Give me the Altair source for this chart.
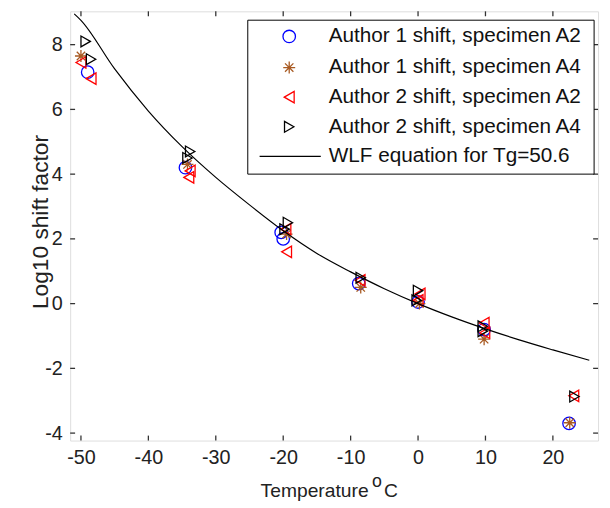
import altair as alt
import pandas as pd

# ---------------- data ----------------
series_names = [
    "Author 1 shift, specimen A2",
    "Author 1 shift, specimen A4",
    "Author 2 shift, specimen A2",
    "Author 2 shift, specimen A4",
]
curve_name = "WLF equation for Tg=50.6"

a1_a2_t = [-49.0, -34.5, -20.0, -20.3, -8.8, 0.0, 9.8, 22.4]
a1_a2_y = [7.15, 4.2, 2.0, 2.2, 0.62, 0.05, -0.8, -3.7]

a1_a4_t = [-50.0, -34.2, -19.5, -8.5, 0.2, 9.8, 22.5]
a1_a4_y = [7.65, 4.3, 2.15, 0.5, 0.0, -1.1, -3.68]

a2_a2_t = [-50.0, -48.5, -33.8, -34.0, -19.6, -19.5, -8.6, 0.0, 0.3, 9.8, 9.9, 23.1]
a2_a2_y = [7.45, 6.95, 4.1, 3.9, 2.3, 1.6, 0.72, 0.1, 0.3, -0.6, -0.9, -2.85]

a2_a4_t = [-49.3, -48.5, -33.8, -34.2, -19.3, -19.8, -8.5, 0.0, -0.2, 9.6, 9.6, 23.2]
a2_a4_y = [8.1, 7.55, 4.7, 4.5, 2.5, 2.3, 0.8, 0.4, 0.1, -0.7, -0.85, -2.87]

curve_t = [-51.0, -50, -45, -40, -35, -30, -25, -20, -15, -10, -5, 0, 5, 10, 15, 20, 25.4]
curve_y = [8.95, 8.75, 7.25, 5.95, 4.85, 3.9, 3.05, 2.25, 1.55, 0.98, 0.46, 0.0,
           -0.41, -0.78, -1.12, -1.43, -1.75]

x_ticks = [-50, -40, -30, -20, -10, 0, 10, 20]
y_ticks = [-4, -2, 0, 2, 4, 6, 8]

x_title_parts = ["Temperature", "o", "C"]
y_title = "Log10 shift factor"

colors = ["#0000ff", "#a85a22", "#ff0000", "#000000"]
asterisk = "M-1,0L1,0M0,-1L0,1M-0.7,-0.7L0.7,0.7M-0.7,0.7L0.7,-0.7"
shapes = ["circle", asterisk, "triangle-left", "triangle-right"]
sizes = [160, 121, 225, 225]

# ---------------- tables ----------------
rows = []
for name, ts, ys in zip(series_names,
                        [a1_a2_t, a1_a4_t, a2_a2_t, a2_a4_t],
                        [a1_a2_y, a1_a4_y, a2_a2_y, a2_a4_y]):
    for t, y in zip(ts, ys):
        rows.append({"series": name, "T": t, "shift": y})
pts = pd.DataFrame(rows)
curve = pd.DataFrame({"T": curve_t, "shift": curve_y})

W, H = 535, 435
FONT = "Liberation Sans"

xs = alt.Scale(domain=[-51.6, 26.7], nice=False, zero=False)
ys = alt.Scale(domain=[-4.23, 9.03], nice=False, zero=False)
shape_scale = alt.Scale(domain=series_names, range=shapes)
color_scale = alt.Scale(domain=series_names, range=colors)
size_scale = alt.Scale(domain=series_names, range=sizes)

x_axis = alt.Axis(values=x_ticks, ticks=False, domain=False, grid=False,
                  labelFont=FONT, labelFontSize=20, labelColor="#222",
                  labelPadding=7, labelExpr="'' + datum.value", title=None)
y_axis = alt.Axis(values=y_ticks, ticks=False, domain=False, grid=False,
                  labelFont=FONT, labelFontSize=20, labelColor="#222",
                  labelPadding=8, labelExpr="'' + datum.value",
                  title=y_title, titleFont=FONT,
                  titleFontSize=23, titleFontWeight="normal", titleColor="#222",
                  titleX=-23, titleY=213, titleBaseline="alphabetic")

points = alt.Chart(pts).mark_point(filled=False, strokeWidth=1.3, opacity=1).encode(
    x=alt.X("T:Q", scale=xs, axis=x_axis),
    y=alt.Y("shift:Q", scale=ys, axis=y_axis),
    shape=alt.Shape("series:N", scale=shape_scale, legend=None),
    color=alt.Color("series:N", scale=color_scale, legend=None),
    size=alt.Size("series:N", scale=size_scale, legend=None),
)

line = alt.Chart(curve).mark_line(color="#000", strokeWidth=1.2, interpolate="monotone",
                                  clip=True).encode(
    x=alt.X("T:Q", scale=xs), y=alt.Y("shift:Q", scale=ys))

xt = pd.DataFrame({"v": x_ticks})
yt = pd.DataFrame({"v": y_ticks})
tick_style = dict(color="#333", strokeWidth=1.3)
tb = alt.Chart(xt).mark_rule(**tick_style).encode(
    x=alt.X("v:Q", scale=xs), y=alt.value(H), y2=alt.value(H - 5))
tt = alt.Chart(xt).mark_rule(**tick_style).encode(
    x=alt.X("v:Q", scale=xs), y=alt.value(0), y2=alt.value(5))
tl = alt.Chart(yt).mark_rule(**tick_style).encode(
    y=alt.Y("v:Q", scale=ys), x=alt.value(0), x2=alt.value(5))
tr = alt.Chart(yt).mark_rule(**tick_style).encode(
    y=alt.Y("v:Q", scale=ys), x=alt.value(W), x2=alt.value(W - 5))

# ---------------- x title with raised "o" ----------------
one = alt.Data(values=[{"a": 1}])
title_base = H + 57
xt1 = alt.Chart(one).mark_text(align="left", baseline="alphabetic", font=FONT,
                               fontSize=19.5, color="#222", text=x_title_parts[0]).encode(
    x=alt.value(193), y=alt.value(title_base))
xt2 = alt.Chart(one).mark_text(align="left", baseline="alphabetic", font=FONT,
                               fontSize=18, color="#222", text=x_title_parts[1]).encode(
    x=alt.value(306), y=alt.value(title_base - 10))
xt3 = alt.Chart(one).mark_text(align="left", baseline="alphabetic", font=FONT,
                               fontSize=19.5, color="#222", text=x_title_parts[2]).encode(
    x=alt.value(318), y=alt.value(title_base))

# ---------------- legend (drawn by hand) ----------------
box = alt.Chart(one).mark_rect(fill="white", stroke="#000", strokeWidth=1).encode(
    x=alt.value(180), x2=alt.value(531), y=alt.value(9), y2=alt.value(165))

row_y = [25.5, 57, 87, 117, 147]
leg = pd.DataFrame({"series": series_names, "py": row_y[:4]})
leg_sym = alt.Chart(leg).mark_point(filled=False, strokeWidth=1.3, opacity=1).encode(
    x=alt.value(222),
    y=alt.Y("py:Q", scale=None),
    shape=alt.Shape("series:N", scale=shape_scale, legend=None),
    color=alt.Color("series:N", scale=color_scale, legend=None),
    size=alt.Size("series:N", scale=size_scale, legend=None),
)
leg_txt_df = pd.DataFrame({"label": series_names + [curve_name], "py": row_y})
leg_txt = alt.Chart(leg_txt_df).mark_text(align="left", baseline="middle", font=FONT,
                                          fontSize=21, color="#111").encode(
    x=alt.value(262), y=alt.Y("py:Q", scale=None), text="label:N")
leg_line = alt.Chart(one).mark_rule(color="#000", strokeWidth=1.2).encode(
    x=alt.value(192), x2=alt.value(254), y=alt.value(row_y[4]))

chart = alt.layer(points, line, tb, tt, tl, tr, xt1, xt2, xt3,
                  box, leg_line, leg_sym, leg_txt).properties(
    width=W, height=H,
    autosize=alt.AutoSizeParams(type="none"),
    padding={"left": 63, "top": 0, "right": 4, "bottom": 65},
).configure_view(stroke="#333", strokeWidth=1.5).configure(background="white")

chart.save("out.html", embed_options={"renderer": "svg", "actions": False})
